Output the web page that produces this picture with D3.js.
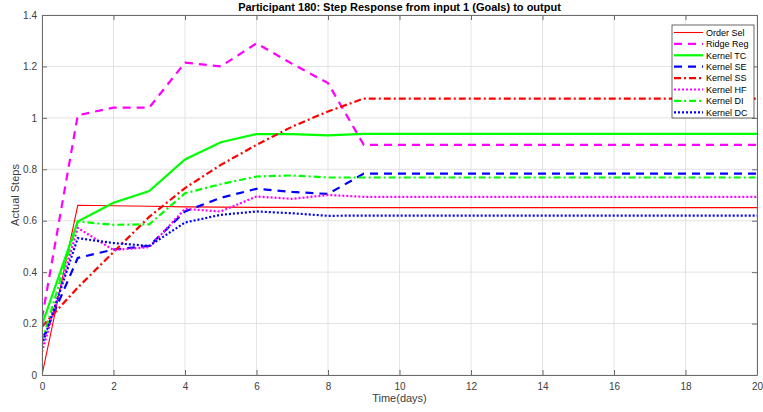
<!DOCTYPE html>
<html><head><meta charset="utf-8">
<script src="https://cdn.jsdelivr.net/npm/d3@7"></script>
<style>body{margin:0;background:#fff;} text{font-family:"Liberation Sans",Arial,sans-serif;}</style>
</head><body><svg id="c" width="763" height="412"></svg>
<script>
const time = d3.range(0, 21);
const xTicks = [0,2,4,6,8,10,12,14,16,18,20];
const yTicks = [0,0.2,0.4,0.6,0.8,1,1.2,1.4];
const yTickLabels = ["0","0.2","0.4","0.6","0.8","1","1.2","1.4"];
const seriesNames = ["Order Sel","Ridge Reg","Kernel TC","Kernel SE","Kernel SS","Kernel HF","Kernel DI","Kernel DC"];
const orderSel = [0,0.66,0.658,0.656,0.654,0.653,0.652,0.652,0.651,0.651,0.651,0.651,0.651,0.651,0.651,0.651,0.651,0.651,0.651,0.651,0.651];
const ridgeReg = [0.22,1.01,1.04,1.04,1.215,1.2,1.29,1.21,1.135,0.895,0.895,0.895,0.895,0.895,0.895,0.895,0.895,0.895,0.895,0.895,0.895];
const kernelTC = [0.195,0.597,0.67,0.715,0.838,0.905,0.937,0.937,0.932,0.938,0.938,0.938,0.938,0.938,0.938,0.938,0.938,0.938,0.938,0.938,0.938];
const kernelSE = [0.136,0.455,0.488,0.502,0.636,0.689,0.724,0.712,0.704,0.783,0.783,0.783,0.783,0.783,0.783,0.783,0.783,0.783,0.783,0.783,0.783];
const kernelSS = [0.188,0.34,0.478,0.615,0.727,0.817,0.895,0.966,1.025,1.075,1.075,1.075,1.075,1.075,1.075,1.075,1.075,1.075,1.075,1.075,1.075];
const kernelHF = [0.09,0.572,0.486,0.497,0.646,0.636,0.694,0.685,0.7,0.693,0.693,0.693,0.693,0.693,0.693,0.693,0.693,0.693,0.693,0.693,0.693];
const kernelDI = [0.13,0.597,0.584,0.586,0.707,0.742,0.772,0.776,0.768,0.768,0.768,0.768,0.768,0.768,0.768,0.768,0.768,0.768,0.768,0.768,0.768];
const kernelDC = [0.117,0.532,0.513,0.502,0.593,0.623,0.636,0.629,0.619,0.62,0.62,0.62,0.62,0.62,0.62,0.62,0.62,0.62,0.62,0.62,0.62];

const seriesData = [orderSel,ridgeReg,kernelTC,kernelSE,kernelSS,kernelHF,kernelDI,kernelDC];
const styles = [
  {c:"#ff0000", w:1.1, d:null},
  {c:"#ff00ff", w:2.2, d:"8,6"},
  {c:"#00ff00", w:2.2, d:null},
  {c:"#0000ff", w:2.2, d:"8,6"},
  {c:"#ff0000", w:2.2, d:"7,3,2,3"},
  {c:"#ff00ff", w:2.2, d:"2,2"},
  {c:"#00ff00", w:2.2, d:"7,3,2,3"},
  {c:"#0000ff", w:2.2, d:"2,2"}
];

const svg = d3.select("#c");
const L=42, R=757, T=15, B=375;
const x = d3.scaleLinear().domain([0,20]).range([L,R]);
const y = d3.scaleLinear().domain([0,1.4]).range([B,T]);
const axisCol = "#6b6b6b";
const textCol = "#404040";

// grid
const g = svg.append("g");
g.selectAll(".gx").data(xTicks).enter().append("line")
  .attr("x1",d=>x(d)).attr("x2",d=>x(d)).attr("y1",T).attr("y2",B)
  .attr("stroke","#e3e3e3").attr("stroke-width",1);
g.selectAll(".gy").data(yTicks).enter().append("line")
  .attr("y1",d=>y(d)).attr("y2",d=>y(d)).attr("x1",L).attr("x2",R)
  .attr("stroke","#e3e3e3").attr("stroke-width",1);

// lines
svg.append("clipPath").attr("id","pc").append("rect")
  .attr("x",L).attr("y",T).attr("width",R-L).attr("height",B-T);
const line = d3.line().x((d,i)=>x(time[i])).y(d=>y(d));
const lg = svg.append("g").attr("clip-path","url(#pc)");
seriesData.forEach((s,i)=>{
  lg.append("path").datum(s).attr("d",line).attr("fill","none")
    .attr("stroke",styles[i].c).attr("stroke-width",styles[i].w)
    .attr("stroke-dasharray",styles[i].d);
});

// axes
const xa = svg.append("g").attr("transform",`translate(0,${B})`)
  .call(d3.axisBottom(x).tickValues(xTicks).tickSizeInner(-5).tickSizeOuter(0).tickPadding(8));
const xaTop = svg.append("g").attr("transform",`translate(0,${T})`)
  .call(d3.axisTop(x).tickValues(xTicks).tickSizeInner(-5).tickSizeOuter(0).tickFormat(""));
const ya = svg.append("g").attr("transform",`translate(${L},0)`)
  .call(d3.axisLeft(y).tickValues(yTicks).tickSizeInner(-5).tickSizeOuter(0).tickPadding(5).tickFormat((d,i)=>yTickLabels[i]));
const yaR = svg.append("g").attr("transform",`translate(${R},0)`)
  .call(d3.axisRight(y).tickValues(yTicks).tickSizeInner(-5).tickSizeOuter(0).tickFormat(""));
[xa,xaTop,ya,yaR].forEach(a=>{
  a.selectAll("path").attr("stroke",axisCol);
  a.selectAll("line").attr("stroke",axisCol);
  a.selectAll("text").attr("fill",textCol).style("font-size","10px").style("font-family","'Liberation Sans',Arial,sans-serif");
});

// labels
svg.append("text").attr("x",(L+R)/2).attr("y",11).attr("text-anchor","middle")
  .style("font-size","11px").style("font-weight","bold").attr("fill","#000")
  .text("Participant 180: Step Response from input 1 (Goals) to output");
svg.append("text").attr("x",(L+R)/2).attr("y",402).attr("text-anchor","middle")
  .style("font-size","11px").attr("fill",textCol).text("Time(days)");
svg.append("text").attr("transform",`translate(19,${(T+B)/2}) rotate(-90)`).attr("text-anchor","middle")
  .style("font-size","11px").attr("fill",textCol).text("Actual Steps");

// legend
const lx=672, ly=25, lw=82, lh=93;
const leg = svg.append("g");
leg.append("rect").attr("x",lx).attr("y",ly).attr("width",lw).attr("height",lh)
  .attr("fill","#fff").attr("stroke","#262626").attr("stroke-width",0.7);
seriesNames.forEach((n,i)=>{
  const yy = ly+7.5+i*11.4;
  leg.append("line").attr("x1",lx+2).attr("x2",lx+31).attr("y1",yy).attr("y2",yy)
    .attr("stroke",styles[i].c).attr("stroke-width",styles[i].w).attr("stroke-dasharray",styles[i].d);
  leg.append("text").attr("x",lx+34).attr("y",yy+3.2).style("font-size","9px").attr("fill","#000").text(n);
});
</script></body></html>
